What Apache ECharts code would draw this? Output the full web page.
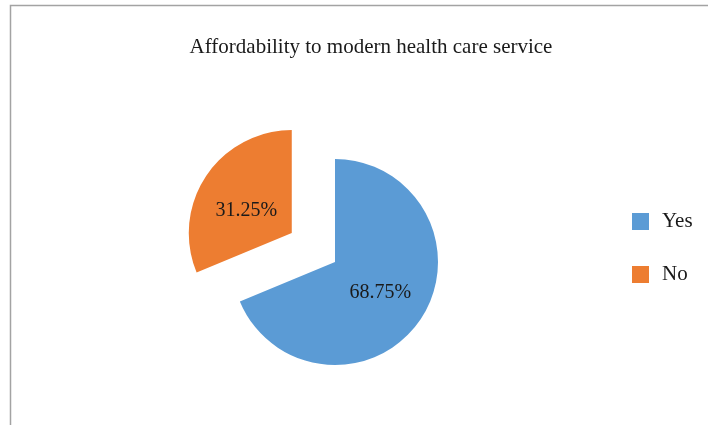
<!DOCTYPE html>
<html>
<head>
<meta charset="utf-8">
<script src="https://cdn.jsdelivr.net/npm/echarts@6/dist/echarts.min.js"></script>
<style>html,body{margin:0;padding:0;background:#fff;}#c{width:708px;height:425px;}</style>
</head>
<body>
<div id="c"></div>
<script>
var titleText = 'Affordability to modern health care service';
var categories = ['Yes', 'No'];
var values = [68.75, 31.25];
var colors = ['#5B9BD5', '#ED7D31'];

var chart = echarts.init(document.getElementById('c'), null, {renderer: 'canvas'});
var serif = '"Liberation Serif", "DejaVu Serif", serif';
chart.setOption({
  animation: false,
  backgroundColor: '#ffffff',
  graphic: [{
    type: 'rect', z: -1,
    shape: {x: 10.5, y: 5.5, width: 760, height: 460},
    style: {fill: '#ffffff', stroke: '#a3a3a3', lineWidth: 1.5}
  }],
  title: {
    text: titleText, left: 366, top: 32, textAlign: 'center',
    textStyle: {fontFamily: serif, fontSize: 21, fontWeight: 'normal', color: '#1a1a1a'}
  },
  legend: {
    orient: 'vertical', left: 627, top: 206,
    itemWidth: 17, itemHeight: 17, itemGap: 32, icon: 'rect',
    data: categories,
    textStyle: {fontFamily: serif, fontSize: 21, lineHeight: 21, color: '#1a1a1a', padding: [0, 0, 0, 8]}
  },
  series: [{
    type: 'pie',
    center: [335, 262],
    radius: 103,
    startAngle: 90,
    clockwise: true,
    selectedMode: 'single',
    selectedOffset: 52,
    emphasis: {disabled: true},
    label: {
      position: 'inside',
      formatter: function (p) { return p.value.toFixed(2) + '%'; },
      fontFamily: serif, fontSize: 20, color: '#1a1a1a'
    },
    labelLayout: function (params) {
      return params.dataIndex === 1 ? {dy: 8} : {};
    },
    labelLine: {show: false},
    itemStyle: {borderWidth: 0},
    data: categories.map(function (c, i) {
      return {name: c, value: values[i], itemStyle: {color: colors[i]}, selected: i === 1};
    })
  }]
});
</script>
</body>
</html>
